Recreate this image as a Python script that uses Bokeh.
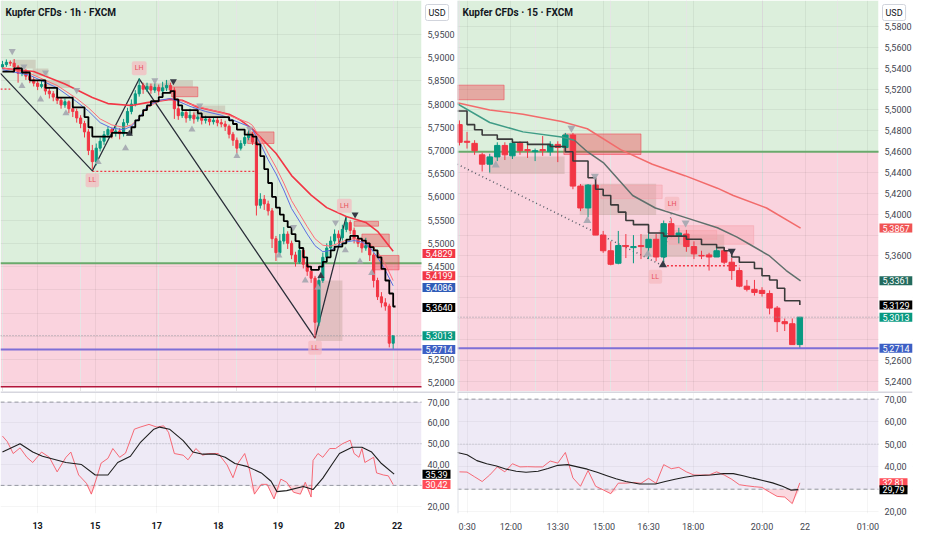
from bokeh.plotting import figure
from bokeh.models import (ColumnDataSource, Label, Span, BoxAnnotation,
                          FixedTicker, CustomJSTickFormatter, Grid)
from bokeh.layouts import gridplot
from bokeh.embed import file_html
from bokeh.resources import INLINE

FONT = "Roboto"
UP, DOWN = "#089981", "#f23645"

# ================= LEFT CHART : Kupfer CFDs 1h =================
l_title = "Kupfer CFDs · 1h · FXCM"
l_open = [5.880,5.885,5.890,5.888,5.880,5.866,5.872,5.860,5.852,5.845,5.838,5.842,5.828,5.822,5.815,5.808,5.798,5.805,5.790,5.784,
          5.770,5.758,5.740,5.700,5.676,5.705,5.720,5.734,5.745,5.738,5.742,5.736,5.760,5.784,5.800,5.822,5.840,5.832,5.838,5.830,
          5.836,5.828,5.835,5.840,5.830,5.790,5.775,5.782,5.770,5.776,5.768,5.772,5.765,5.768,5.762,5.765,5.760,5.757,5.752,5.735,
          5.722,5.705,5.715,5.728,5.735,5.718,5.582,5.595,5.585,5.570,5.510,5.480,5.505,5.520,5.500,5.475,5.460,5.485,5.455,5.440,
          5.425,5.330,5.420,5.470,5.490,5.505,5.520,5.512,5.530,5.545,5.528,5.510,5.500,5.490,5.495,5.475,5.420,5.385,5.372,5.365,5.285]
l_high = [5.893,5.896,5.894,5.897,5.884,5.878,5.876,5.866,5.858,5.850,5.850,5.846,5.834,5.828,5.824,5.814,5.812,5.808,5.798,5.790,
          5.776,5.764,5.746,5.712,5.715,5.728,5.742,5.752,5.750,5.755,5.748,5.768,5.792,5.810,5.830,5.856,5.846,5.846,5.844,5.845,
          5.842,5.848,5.852,5.846,5.836,5.800,5.795,5.788,5.790,5.782,5.780,5.778,5.775,5.772,5.772,5.770,5.768,5.764,5.756,5.740,
          5.728,5.722,5.734,5.744,5.740,5.722,5.608,5.604,5.592,5.576,5.516,5.520,5.535,5.526,5.506,5.482,5.498,5.490,5.462,5.448,
          5.430,5.430,5.480,5.500,5.515,5.530,5.528,5.540,5.558,5.550,5.534,5.518,5.508,5.512,5.500,5.480,5.426,5.395,5.382,5.370,5.3013]
l_low = [5.876,5.880,5.882,5.874,5.846,5.860,5.852,5.845,5.838,5.830,5.834,5.820,5.812,5.806,5.800,5.790,5.792,5.780,5.772,5.760,
         5.748,5.728,5.690,5.660,5.668,5.698,5.712,5.728,5.726,5.730,5.724,5.730,5.754,5.778,5.795,5.816,5.822,5.826,5.822,5.824,
         5.818,5.822,5.828,5.824,5.768,5.766,5.770,5.760,5.764,5.758,5.762,5.756,5.758,5.754,5.756,5.752,5.750,5.742,5.726,5.710,
         5.694,5.700,5.710,5.722,5.712,5.560,5.575,5.572,5.560,5.490,5.462,5.474,5.498,5.488,5.466,5.450,5.456,5.446,5.430,5.415,
         5.296,5.322,5.415,5.462,5.482,5.498,5.500,5.506,5.524,5.520,5.500,5.492,5.480,5.484,5.462,5.405,5.378,5.362,5.355,5.276,5.2714]
l_close = [5.885,5.890,5.888,5.880,5.866,5.872,5.860,5.852,5.845,5.838,5.842,5.828,5.822,5.815,5.808,5.798,5.805,5.790,5.784,5.770,
           5.758,5.740,5.700,5.676,5.705,5.720,5.734,5.745,5.738,5.742,5.736,5.760,5.784,5.800,5.822,5.840,5.832,5.838,5.830,5.836,
           5.828,5.835,5.840,5.830,5.790,5.775,5.782,5.770,5.776,5.768,5.772,5.765,5.768,5.762,5.765,5.760,5.757,5.752,5.735,5.722,
           5.705,5.715,5.728,5.735,5.718,5.582,5.595,5.585,5.570,5.510,5.480,5.505,5.520,5.500,5.475,5.460,5.485,5.455,5.440,5.425,
           5.330,5.420,5.470,5.490,5.505,5.520,5.512,5.530,5.545,5.528,5.510,5.500,5.490,5.495,5.475,5.420,5.385,5.372,5.365,5.285,5.3013]

l_trail_x = [0,3,5,7,11,14,18,21,22,23,28,32,33,34,35,36,37,38,40,41,43,44,45,46,50,51,58,59,60,62,64,65,66,67,68,69,70,71,72,73,
             74,75,76,77,78,79,81,82,83,84,85,87,88,89,91,92,93,94,95,96,97,98,99,100,100.6]
l_trail_y = [5.870,5.877,5.868,5.851,5.835,5.814,5.793,5.772,5.750,5.730,5.738,5.735,5.750,5.765,5.775,5.787,5.797,5.806,5.815,5.824,
             5.828,5.810,5.797,5.787,5.780,5.772,5.765,5.757,5.745,5.734,5.730,5.713,5.688,5.660,5.630,5.600,5.577,5.562,5.548,5.535,
             5.520,5.505,5.490,5.470,5.450,5.443,5.450,5.460,5.470,5.485,5.493,5.500,5.508,5.516,5.510,5.506,5.500,5.492,5.485,5.470,
             5.445,5.420,5.392,5.364,5.364]

l_ema_x = [0,8,16,23,27,33,37,43,46,50,58,61,64,70,74,79,83,88,93,96,100]
l_ema_y = [5.877,5.870,5.843,5.814,5.801,5.797,5.803,5.810,5.808,5.793,5.778,5.765,5.746,5.694,5.646,5.604,5.577,5.558,5.545,5.526,5.4829]
l_blue_x = [0,7,14,19,22,25,28,31,33,35,37,40,43,45,48,52,56,60,63,64,66,68,70,72,74,76,78,80,82,84,86,88,90,92,94,96,98,100]
l_blue_y = [5.874,5.862,5.835,5.805,5.785,5.760,5.748,5.745,5.752,5.770,5.795,5.808,5.812,5.806,5.795,5.784,5.776,5.762,5.752,5.745,
            5.715,5.680,5.650,5.615,5.575,5.548,5.520,5.495,5.482,5.485,5.495,5.503,5.506,5.503,5.492,5.470,5.442,5.4086]
l_pink_y = [5.878,5.866,5.840,5.812,5.792,5.768,5.755,5.750,5.755,5.770,5.792,5.806,5.812,5.810,5.800,5.790,5.782,5.769,5.760,5.754,
            5.727,5.694,5.664,5.630,5.592,5.564,5.536,5.510,5.496,5.494,5.500,5.507,5.510,5.508,5.500,5.482,5.455,5.4199]

l_zig_x = [-0.5, 23, 35, 80, 88]
l_zig_y = [5.866, 5.656, 5.854, 5.296, 5.558]

l_tan = dict(left=[2.5, 7.75, 11.25, 36.25, 41.5, 48.75, 80.25],
             right=[8.5, 11.75, 17.25, 42.75, 48.75, 57.0, 87.0],
             bottom=[5.8766, 5.8598, 5.8347, 5.830, 5.837, 5.772, 5.290],
             top=[5.8955, 5.8766, 5.8515, 5.845, 5.8515, 5.797, 5.420])
l_red = dict(left=[43.25, 62.75, 90.0, 92.0, 95.25],
             right=[50.0, 69.5, 96.25, 99.0, 101.5],
             bottom=[5.8158, 5.715, 5.537, 5.493, 5.443],
             top=[5.8368, 5.740, 5.5475, 5.520, 5.474])

l_tri_dn_x = [2.5, 5.5, 11, 19, 39, 50.5, 63.25, 74.5, 85.25]
l_tri_dn_y = [5.914, 5.881, 5.868, 5.830, 5.851, 5.797, 5.747, 5.535, 5.545]
l_tri_dn_dark_x = [43.75, 90.25]
l_tri_dn_dark_y = [5.849, 5.562]
l_tri_up_x = [5, 9.75, 16.25, 24.5, 31.5, 48.5, 60, 70.75, 77.5, 80.75, 87.75, 91.5, 94.5]
l_tri_up_y = [5.839, 5.810, 5.780, 5.675, 5.705, 5.745, 5.688, 5.474, 5.420, 5.405, 5.485, 5.461, 5.436]
l_tri_up_dark_x = [32.5, 81.5]
l_tri_up_dark_y = [5.736, 5.430]

l_piv_x = [23, 35, 80, 87.5]
l_piv_y = [5.636, 5.877, 5.275, 5.581]
l_piv_t = ["LL", "LH", "LL", "LH"]

l_ll_level = 5.655
l_ll_from, l_ll_to = 23, 64.5
l_zone_split = 5.457
l_zone_floor = 5.191
last_price = 5.3013
support = 5.2714

l_val_y = [5.478, 5.430, 5.405, 5.362, 5.3013, 5.2714]
l_val_t = ["5,4829", "5,4199", "5,4086", "5,3640", "5,3013", "5,2714"]
l_val_c = ["#f23645", "#f23645", "#2f5cb8", "#000000", "#089981", "#3d5fc4"]

l_yticks = [5.20, 5.25, 5.45, 5.50, 5.55, 5.60, 5.65, 5.70, 5.75, 5.80, 5.85, 5.90, 5.95]
l_gridticks = [5.20, 5.25, 5.30, 5.35, 5.40, 5.45, 5.50, 5.55, 5.60, 5.65, 5.70, 5.75, 5.80, 5.85, 5.90, 5.95]
l_xticks = [9, 23.75, 39.5, 55.25, 70.5, 86.25, 101]
l_xlabels = ["13", "15", "17", "18", "19", "20", "22"]

l_rsi_x = [0,1.25,2.75,4.5,6.25,7.75,10,12,14,16.25,17.5,19.5,21.5,22.75,24,25.25,27,28.25,30,31.5,33.75,35.25,37.5,39.5,41.25,42.5,
           44,46.25,47.5,49.5,51.25,52.75,55.25,57.5,59,60.25,62,63.25,64.5,66.25,67.75,69.5,71.25,72.75,74.5,76.25,77.5,79,79.5,
           80.75,82,83.75,85.25,87,89,90,91.25,92,92.75,95,95.75,97.5,98.75,100]
l_rsi_y = [53.7,51,45.3,48,43.5,41,46,43.5,36.5,43.5,46,35,31,25.8,33,40.7,43,47.7,43.5,45.5,57,58,59.3,58,58.6,55.5,
           45.3,44.5,42.3,47.7,44.5,45.3,45.3,39.8,33.7,40.5,45.3,37.4,25.8,30.5,30.5,23.5,33,31.5,26.7,25.8,31.5,24.4,42,
           45.3,43.5,47.7,47.7,50,51.7,45.3,43.5,47.7,41,43.5,36,35,34.6,30.42]
l_rsima_x = [0,4.5,7.75,10.25,16.25,20.25,23.75,27,29.5,32.75,35.25,38.75,40.25,42.75,46.25,48.75,51.25,54.5,57,59.5,62.75,66.25,
             68.75,70.25,72.75,77,79.5,82,84.5,86.25,89.5,92,94.5,97,100.25]
l_rsima_y = [46,50,46,44,41,40,35,35,41,44,50.5,57,58,57,51.5,46,45,45,43.5,40.5,39,36,32,27,27.5,29.5,28,33.5,40.5,45.3,
             48.3,48.3,46,40.5,35.39]
l_rsi_val_y = [35.39, 30.42]
l_rsi_val_t = ["35,39", "30,42"]
l_rsi_val_c = ["#000000", "#ff4d57"]

# ================= RIGHT CHART : Kupfer CFDs 15 =================
r_title = "Kupfer CFDs · 15 · FXCM"
r_open = [5.486,5.470,5.468,5.457,5.448,5.455,5.466,5.456,5.468,5.462,5.460,5.462,5.460,5.467,5.464,5.476,5.427,5.406,5.428,5.380,
          5.365,5.353,5.370,5.368,5.370,5.368,5.376,5.359,5.391,5.379,5.381,5.369,5.3605,5.361,5.359,5.365,5.354,5.346,5.331,5.328,
          5.327,5.324,5.310,5.297,5.295,5.275]
r_high = [5.490,5.479,5.471,5.459,5.458,5.469,5.469,5.470,5.470,5.470,5.463,5.475,5.470,5.470,5.478,5.478,5.429,5.429,5.431,5.384,
          5.374,5.384,5.381,5.380,5.381,5.384,5.381,5.394,5.396,5.387,5.385,5.374,5.365,5.363,5.368,5.368,5.358,5.349,5.337,5.337,
          5.330,5.327,5.312,5.300,5.300,5.3013]
r_low = [5.466,5.463,5.457,5.441,5.440,5.451,5.452,5.453,5.457,5.454,5.451,5.456,5.456,5.450,5.461,5.424,5.403,5.397,5.380,5.363,
         5.351,5.352,5.358,5.353,5.357,5.357,5.355,5.350,5.378,5.372,5.364,5.357,5.357,5.346,5.359,5.352,5.337,5.330,5.326,5.322,
         5.321,5.304,5.287,5.288,5.275,5.2714]
r_close = [5.469,5.469,5.461,5.448,5.455,5.466,5.457,5.468,5.461,5.461,5.461,5.461,5.467,5.464,5.476,5.427,5.406,5.428,5.380,5.365,
           5.352,5.370,5.369,5.369,5.369,5.376,5.359,5.391,5.379,5.382,5.369,5.362,5.360,5.359,5.365,5.354,5.346,5.331,5.328,5.325,
           5.324,5.310,5.297,5.295,5.275,5.3013]

r_trail_x = [-0.3,1,2,3,5,7,9,12,14,15,17,18,19,20,21,22,23,25,27,30,32,34,35,36,37,39,40,41,42,43,45]
r_trail_y = [5.499,5.486,5.481,5.476,5.472,5.469,5.467,5.465,5.460,5.451,5.435,5.424,5.418,5.409,5.402,5.394,5.390,5.382,5.379,5.376,
             5.371,5.368,5.365,5.359,5.354,5.348,5.341,5.337,5.329,5.317,5.3129]
r_teal_x = [-0.3, 4.0, 8.4, 13.5, 15.2]
r_teal_y = [5.506, 5.488, 5.479, 5.474, 5.471]
r_gray_x = [15.2, 16.9, 19.1, 22.9, 25.9, 29.8, 34.1, 36.7, 38.4, 41.0, 43.2, 45.1]
r_gray_y = [5.471, 5.460, 5.449, 5.418, 5.406, 5.397, 5.387, 5.378, 5.371, 5.360, 5.346, 5.3361]
r_ema_x = [-0.3, 4.0, 8.4, 13.5, 16.9, 21.3, 25.5, 29.8, 34.1, 36.2, 40.6, 45.1]
r_ema_y = [5.507, 5.500, 5.496, 5.489, 5.482, 5.462, 5.448, 5.437, 5.425, 5.418, 5.406, 5.3867]

r_tan = dict(left=[3.9, 15.9, 24.1], right=[13.9, 26.0, 35.0],
             bottom=[5.4386, 5.3993, 5.359], top=[5.4555, 5.4293, 5.3806])
r_red = dict(left=[-0.3, 13.8], right=[5.9, 24.0],
             bottom=[5.5098, 5.4573], top=[5.5238, 5.477])
r_pink = dict(left=[18.7, 27.7, 26.4], right=[26.8, 38.9, 34.0],
              bottom=[5.415, 5.3712, 5.3759], top=[5.428, 5.389, 5.3843])

r_tri_dn_x = [14.8, 17.9, 29.9]
r_tri_dn_y = [5.4826, 5.4367, 5.3918]
r_tri_dn_dark_x = [36.0]
r_tri_dn_dark_y = [5.3646]
r_tri_up_x = [4.8, 16.9, 24.9]
r_tri_up_y = [5.447, 5.3937, 5.3618]
r_tri_up_dark_x = [26.9]
r_tri_up_dark_y = [5.3515]

r_piv_x = [28.1, 25.9]
r_piv_y = [5.410, 5.340]
r_piv_t = ["LH", "LL"]
r_diag_x = [-0.3, 26.9]
r_diag_y = [5.448, 5.3506]
r_link_x = [26.9, 28.0]
r_link_y = [5.3506, 5.401]
r_ll_level = 5.3506
r_ll_from, r_ll_to = 26.9, 37.0
r_zone_split = 5.460

r_val_y = [5.3867, 5.3361, 5.3129, 5.3013, 5.2714]
r_val_t = ["5,3867", "5,3361", "5,3129", "5,3013", "5,2714"]
r_val_c = ["#f05454", "#236b5e", "#000000", "#089981", "#3d5fc4"]

r_yticks = [5.24, 5.26, 5.36, 5.40, 5.42, 5.44, 5.46, 5.48, 5.50, 5.52, 5.54, 5.56, 5.58]
r_gridticks = [5.24, 5.26, 5.28, 5.30, 5.32, 5.34, 5.36, 5.38, 5.40, 5.42, 5.44, 5.46, 5.48, 5.50, 5.52, 5.54, 5.56, 5.58]
r_xticks = [1.03, 6.8, 13.0, 19.1, 25.0, 30.9, 40.0, 45.7, 54.0]
r_xlabels = ["0:30", "12:00", "13:30", "15:00", "16:30", "18:00", "20:00", "22", "01:00"]

r_rsi_x = list(range(46))
r_rsi_y = [37.7,37.6,35.5,33.4,36.3,39.9,37.7,41.3,39.9,40.0,39.9,39.9,42.5,41.6,46.3,35.0,31.3,38.3,31.3,29.7,
           28.0,32.7,32.7,33.0,32.6,34.8,32.6,40.9,39.1,39.7,37.7,36.3,36.3,36.3,37.7,36.3,34.4,32.0,31.5,31.1,
           30.8,28.7,26.8,26.5,23.6,32.81]
r_rsima_x = [-0.3,1,2.3,3.6,4.9,6.2,7.5,8.8,10.4,11.7,13,14.3,15.6,16.9,18.2,19.5,20.7,22,23.8,25.9,27.2,28.5,29.8,31.1,33.2,
             34.9,36.2,37.5,38.8,40.1,41.4,42.7,43.8,44.8]
r_rsima_y = [46.3,45.3,42.7,41.3,40.3,38.9,38,37.5,38,39.2,40.6,40.9,39.9,38.9,37.5,36,34.6,33.4,32.3,32.3,33.4,34.4,35.3,36,
             36.3,36.9,36.9,36,34.9,33.9,32.8,31.3,29.6,29.79]
r_rsi_val_y = [32.81, 29.79]
r_rsi_val_t = ["32,81", "29,79"]
r_rsi_val_c = ["#ff4d57", "#000000"]

rsi_ticks = [20, 40, 50, 60, 70]
rsi_gridticks = [20, 30, 40, 50, 60, 70]
rsi_oversold = 30
rsi_overbought = 70

GREEN_BG = "#dcefdc"
PINK_BG = "#fad3de"
FRAME_W = 455      # full drawing width (chart + price-scale strip)
PLOT_W = 421       # width of chart area, rest is the price-scale strip
STANDOFF = -28


def ext_end(x0, x1):
    return x0 + (x1 - x0) * FRAME_W / PLOT_W


def style_axis(ax, size="9px", bold=False):
    ax.axis_line_color = None
    ax.major_tick_line_color = None
    ax.minor_tick_line_color = None
    ax.major_tick_out = 0
    ax.major_tick_in = 0
    ax.minor_tick_out = 0
    ax.minor_tick_in = 0
    ax.major_label_text_font = FONT
    ax.major_label_text_font_size = size
    ax.major_label_text_color = "#131722" if bold else "#434651"
    if bold:
        ax.major_label_text_font_style = "bold"


def val_label(p, x, y, text, bg):
    p.add_layout(Label(x=x, y=y, text=text, x_offset=1, text_align="left", text_baseline="middle",
                       text_font=FONT, text_font_size="9px", text_color="white",
                       background_fill_color=bg, background_fill_alpha=1.0,
                       padding=dict(left=3, right=3, top=1, bottom=1)))


def hline(p, x0, x1, y, **kw):
    p.line([x0, x1], [y, y], **kw)


def base_fig(xr, yr, h, border_bottom, xaxis, sep):
    x0, x1 = xr
    xe = ext_end(x0, x1)
    p = figure(frame_width=FRAME_W, frame_height=h, x_range=(x0, xe), y_range=yr,
               output_backend="svg", toolbar_location=None,
               x_axis_location="below" if xaxis else None, y_axis_location="right",
               min_border_left=0, min_border_right=1, min_border_top=0,
               min_border_bottom=border_bottom)
    p.outline_line_color = None
    if sep:
        p.add_layout(Span(location=x0, dimension="height", line_color="#dfe1e8", line_width=2))
    return p, xe


def price_fig(xr, yr, yticks, gridticks, xticks, title, split, floor, sep):
    p, xe = base_fig(xr, yr, 391, 0, False, sep)
    x0, x1 = xr
    p.yaxis.ticker = FixedTicker(ticks=yticks)
    p.yaxis.formatter = CustomJSTickFormatter(code="return tick.toFixed(4).replace('.', ',')")
    style_axis(p.yaxis)
    p.yaxis.major_label_standoff = STANDOFF
    p.ygrid.ticker = FixedTicker(ticks=gridticks)
    p.ygrid.grid_line_color = "#000000"
    p.ygrid.grid_line_alpha = 0.05
    p.add_layout(Grid(dimension=0, ticker=FixedTicker(ticks=xticks),
                      grid_line_color="#000000", grid_line_alpha=0.05))
    p.add_layout(BoxAnnotation(bottom=split, right=x1, fill_color=GREEN_BG, fill_alpha=1.0,
                               line_color=None, level="image"))
    p.add_layout(BoxAnnotation(top=split, bottom=floor, right=x1, fill_color=PINK_BG, fill_alpha=1.0,
                               line_color=None, level="image"))
    # white price-scale strip
    p.quad(left=[x1], right=[xe], bottom=[yr[0]], top=[yr[1]], fill_color="white", line_color=None)
    hline(p, x0, x1, split, line_color="#6aaa6c", line_width=2)
    p.add_layout(Label(x=x0, y=yr[1], text=title, x_offset=5, y_offset=-6,
                       text_baseline="top", text_font=FONT, text_font_size="10px",
                       text_font_style="bold", text_color="#131722"))
    p.add_layout(Label(x=x1, y=yr[1], text="USD", x_offset=4, y_offset=-4,
                       text_baseline="top", text_align="left", text_font=FONT,
                       text_font_size="9px", text_color="#131722",
                       background_fill_color="white", border_line_color="#d1d4dc",
                       padding=3, border_radius=2))
    return p


def candles(p, o, h, l, c, width):
    n = min(len(o), len(h), len(l), len(c))
    xs = list(range(n))
    cols = [UP if c[i] >= o[i] else DOWN for i in range(n)]
    src = ColumnDataSource(dict(x=xs, h=h[:n], l=l[:n],
                                top=[max(o[i], c[i]) for i in range(n)],
                                bot=[min(o[i], c[i]) for i in range(n)], col=cols))
    p.segment(x0="x", y0="h", x1="x", y1="l", line_color="col", line_width=1, source=src)
    p.vbar(x="x", width=width, top="top", bottom="bot", fill_color="col",
           line_color="col", line_width=1, source=src)


def quads(p, d, fill, alpha, line=None):
    p.quad(left=d["left"], right=d["right"], bottom=d["bottom"], top=d["top"],
           fill_color=fill, fill_alpha=alpha, line_color=line, line_alpha=0.5)


def triangles(p, ux, uy, dx, dy, udx, udy, ddx, ddy, size):
    p.scatter(ux, uy, marker="triangle", size=size, fill_color="#a3a6af", line_color=None, alpha=0.9)
    p.scatter(dx, dy, marker="inverted_triangle", size=size, fill_color="#a3a6af", line_color=None, alpha=0.9)
    p.scatter(udx, udy, marker="triangle", size=size, fill_color="#363a45", line_color=None)
    p.scatter(ddx, ddy, marker="inverted_triangle", size=size, fill_color="#363a45", line_color=None)


def pivots(p, xs, ys, ts):
    for x, y, t in zip(xs, ys, ts):
        p.add_layout(Label(x=x, y=y, text=t, text_align="center", text_baseline="middle",
                           text_font=FONT, text_font_size="7px", text_color="#e8505b",
                           background_fill_color="#f5b9bf", background_fill_alpha=0.7,
                           padding=3, border_radius=2))


def rsi_fig(xr, yr, xticks, xlabels, bold, sep):
    p, xe = base_fig(xr, yr, 122, 21, True, sep)
    x0, x1 = xr
    p.yaxis.ticker = FixedTicker(ticks=rsi_ticks)
    p.yaxis.formatter = CustomJSTickFormatter(code="return tick.toFixed(2).replace('.', ',')")
    style_axis(p.yaxis)
    p.yaxis.major_label_standoff = STANDOFF
    p.xaxis.ticker = FixedTicker(ticks=xticks)
    p.xaxis.major_label_overrides = {t: s for t, s in zip(xticks, xlabels)}
    style_axis(p.xaxis, size="9px", bold=bold)
    p.xaxis.major_label_standoff = 8
    p.ygrid.ticker = FixedTicker(ticks=rsi_gridticks)
    p.ygrid.grid_line_color = "#000000"
    p.ygrid.grid_line_alpha = 0.04
    p.xgrid.grid_line_color = "#000000"
    p.xgrid.grid_line_alpha = 0.04
    p.add_layout(BoxAnnotation(bottom=rsi_oversold, top=rsi_overbought, right=x1, fill_color="#eeeaf6",
                               fill_alpha=1.0, line_color=None, level="image"))
    p.quad(left=[x1], right=[xe], bottom=[yr[0]], top=[yr[1]], fill_color="white", line_color=None)
    hline(p, x0, x1, rsi_overbought, line_color="#9598a1", line_dash="4 3", line_width=1)
    hline(p, x0, x1, rsi_oversold, line_color="#9598a1", line_dash="4 3", line_width=1)
    hline(p, x0, x1, 50, line_color="#b2b5be", line_dash="1 2", line_width=1)
    p.add_layout(Span(location=yr[1], dimension="width", line_color="#d6d6de", line_width=3))
    return p


def rsi_lines(p, rx, ry, mx, my):
    # oversold shading between the RSI and the 30 level
    p.varea(x=rx, y1=[min(v, rsi_oversold) for v in ry], y2=[rsi_oversold] * len(ry),
            fill_color="#f7a8b8", fill_alpha=0.45)
    p.line(rx, ry, line_color="#f7525f", line_width=1, alpha=0.85)
    p.line(mx, my, line_color="#1e1e1e", line_width=1.1)


# ---------- left price ----------
L_X = (-0.5, 107.25)
lp = price_fig(L_X, (5.181, 6.023), l_yticks, l_gridticks, l_xticks, l_title, l_zone_split, l_zone_floor, False)
hline(lp, L_X[0], L_X[1], l_zone_floor, line_color="#b2163a", line_width=1.5)
quads(lp, l_tan, "#b49a8c", 0.35)
quads(lp, l_red, "#f23645", 0.38, line="#f23645")
lp.line([l_ll_from, l_ll_to], [l_ll_level, l_ll_level], line_color="#f23645", line_dash="2 2", line_width=1.3)
lp.line([-0.5, 2], [5.832, 5.832], line_color="#f23645", line_dash="2 2", line_width=1.3)
lp.line(l_zig_x, l_zig_y, line_color="#2a2e39", line_width=1.3)
candles(lp, l_open, l_high, l_low, l_close, 0.55)
lp.line(l_ema_x, l_ema_y, line_color="#f23645", line_width=1.6)
lp.line(l_blue_x, l_pink_y, line_color="#ff6b78", line_width=1)
lp.line(l_blue_x, l_blue_y, line_color="#5b6ee1", line_width=1)
lp.step(l_trail_x, l_trail_y, mode="after", line_color="#000000", line_width=1.8)
triangles(lp, l_tri_up_x, l_tri_up_y, l_tri_dn_x, l_tri_dn_y,
          l_tri_up_dark_x, l_tri_up_dark_y, l_tri_dn_dark_x, l_tri_dn_dark_y, 7)
pivots(lp, l_piv_x, l_piv_y, l_piv_t)
hline(lp, L_X[0], L_X[1], last_price, line_color="#9598a1", line_dash="1 2", line_width=1)
hline(lp, L_X[0], L_X[1], support, line_color="#7e6fd6", line_width=2)
for y, t, c in zip(l_val_y, l_val_t, l_val_c):
    val_label(lp, L_X[1], y, t, c)

# ---------- right price ----------
R_X = (-0.26, 55.4)
rp = price_fig(R_X, (5.230, 5.605), r_yticks, r_gridticks, r_xticks, r_title, r_zone_split, 5.0, True)
quads(rp, r_tan, "#b49a8c", 0.35)
quads(rp, r_red, "#f23645", 0.38, line="#f23645")
quads(rp, r_pink, "#f7a0aa", 0.4, line="#f7a0aa")
rp.line(r_diag_x, r_diag_y, line_color="#555a66", line_dash="1 3", line_width=1.5)
rp.line(r_link_x, r_link_y, line_color="#555a66", line_dash="1 3", line_width=1.2)
rp.line([r_ll_from, r_ll_to], [r_ll_level, r_ll_level], line_color="#f23645", line_dash="2 2", line_width=1.3)
candles(rp, r_open, r_high, r_low, r_close, 0.72)
rp.line(r_ema_x, r_ema_y, line_color="#f26b6b", line_width=1.5)
rp.line(r_teal_x, r_teal_y, line_color="#3f9c86", line_width=1.5)
rp.line(r_gray_x, r_gray_y, line_color="#5f706c", line_width=1.5)
rp.step(r_trail_x, r_trail_y, mode="after", line_color="#3a3a3a", line_width=1.6)
triangles(rp, r_tri_up_x, r_tri_up_y, r_tri_dn_x, r_tri_dn_y,
          r_tri_up_dark_x, r_tri_up_dark_y, r_tri_dn_dark_x, r_tri_dn_dark_y, 8)
pivots(rp, r_piv_x, r_piv_y, r_piv_t)
hline(rp, R_X[0], R_X[1], last_price, line_color="#9598a1", line_dash="1 2", line_width=1)
hline(rp, R_X[0], R_X[1], support, line_color="#7e6fd6", line_width=2)
for y, t, c in zip(r_val_y, r_val_t, r_val_c):
    val_label(rp, R_X[1], y, t, c)

# ---------- left RSI ----------
lr = rsi_fig(L_X, (16.5, 75.1), l_xticks, l_xlabels, True, False)
rsi_lines(lr, l_rsi_x, l_rsi_y, l_rsima_x, l_rsima_y)
for y, t, c in zip(l_rsi_val_y, l_rsi_val_t, l_rsi_val_c):
    val_label(lr, L_X[1], y, t, c)

# ---------- right RSI ----------
rr = rsi_fig(R_X, (19.2, 73.4), r_xticks, r_xlabels, False, True)
rsi_lines(rr, r_rsi_x, r_rsi_y, r_rsima_x, r_rsima_y)
for y, t, c in zip(r_rsi_val_y, r_rsi_val_t, r_rsi_val_c):
    val_label(rr, R_X[1], y, t, c)

grid = gridplot([[lp, rp], [lr, rr]], toolbar_location=None)
open("out.html", "w").write(file_html(grid, INLINE))
